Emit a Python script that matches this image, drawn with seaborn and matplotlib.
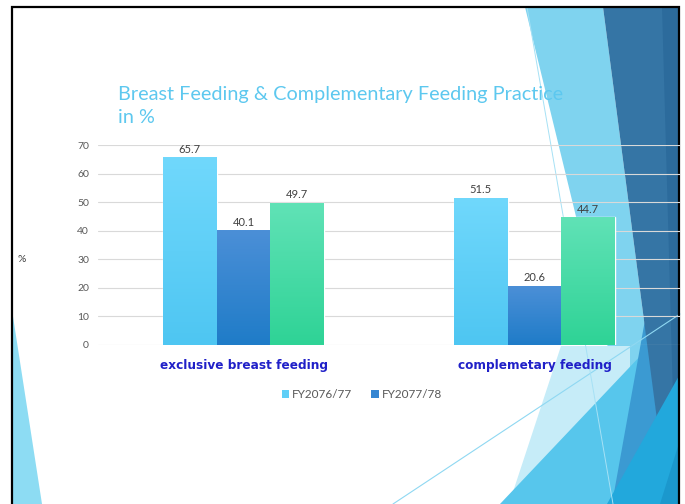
import numpy as np
import pandas as pd
import matplotlib
matplotlib.use("Agg")
import matplotlib.pyplot as plt
from matplotlib.patches import Polygon, Patch
from matplotlib.colors import LinearSegmentedColormap
import seaborn as sns

# -------------------------------
# data
# -------------------------------
categories = ["exclusive breast feeding", "complemetary feeding"]
series = ["FY2076/77", "FY2077/78", "FY2078/79"]
values_fy2076 = [65.7, 51.5]
values_fy2077 = [40.1, 20.6]
values_fy2078 = [49.7, 44.7]
yticks = [0, 10, 20, 30, 40, 50, 60, 70]
legend_series = ["FY2076/77", "FY2077/78"]

df = pd.DataFrame({
    "category": categories * 3,
    "year": np.repeat(series, len(categories)),
    "value": values_fy2076 + values_fy2077 + values_fy2078,
})

# flat colour (legend) + gradient top/bottom for each series
flat = ["#5fcff7", "#3586d2", "#44dca6"]
grad_top = ["#70d8fc", "#4b8fd7", "#60e2b6"]
grad_bot = ["#4ec6f2", "#1f7cc8", "#2fd396"]

sns.set_style("white")
plt.rcParams["font.family"] = ["Lato", "DejaVu Sans"]

W, H = 685, 504
fig = plt.figure(figsize=(W / 100, H / 100), dpi=100, facecolor="white")

# -------------------------------
# slide background (theme shapes), pixel coords
# -------------------------------
bg = fig.add_axes([0, 0, 1, 1], zorder=0)
bg.set_xlim(0, W)
bg.set_ylim(H, 0)
bg.axis("off")

shapes = [
    ([(525, 7), (603, 7), (668, 504), (646, 504)], "#7fd3ef"),
    ([(561, 346), (630, 346), (630, 504), (509, 504)], "#c6ecf8"),
    ([(500, 504), (680, 314), (680, 504)], "#57c6ec"),
    ([(645, 320), (668, 504), (612, 504)], "#3b9ad2"),
    ([(603, 7), (680, 7), (680, 504), (668, 504)], "#3575a5"),
    ([(662, 7), (680, 7), (680, 504), (676, 504)], "#2c6b9c"),
    ([(607, 504), (680, 374), (680, 504)], "#22a8dc"),
    ([(660, 504), (680, 440), (680, 504)], "#1b98cd"),
    ([(12, 310), (12, 504), (42, 504)], "#8ddcf3"),
]
for pts, col in shapes:
    bg.add_patch(Polygon(pts, closed=True, facecolor=col, edgecolor="none"))

bg.plot([393, 680], [504, 314], color="#8fd8f2", lw=0.8)
bg.plot([527, 613], [7, 504], color="#a6e1f5", lw=0.7)

# slide border
bg.plot([12, 12, 679, 679], [504, 7, 7, 504], color="black", lw=1.6,
        solid_joinstyle="miter")

# -------------------------------
# chart
# -------------------------------
ax = fig.add_axes([98 / W, 1 - 345 / H, 582 / W, 200 / H], zorder=2)
ax.patch.set_alpha(0)

sns.barplot(data=df, x="category", y="value", hue="year", order=categories,
            hue_order=series, palette=flat, width=0.553, saturation=1,
            legend=False, ax=ax)

# vertical gradient on each bar
g = np.linspace(0, 1, 64).reshape(-1, 1)
for i, cont in enumerate(ax.containers):
    cmap = LinearSegmentedColormap.from_list("b%d" % i, [grad_bot[i], grad_top[i]])
    for bar in cont:
        x0, w, h = bar.get_x(), bar.get_width(), bar.get_height()
        im = ax.imshow(g, cmap=cmap, origin="lower", aspect="auto",
                       extent=[x0, x0 + w, 0, h], zorder=bar.get_zorder() + 0.1)
        im.set_clip_path(bar)
    ax.bar_label(cont, fmt="%.1f", padding=2, fontsize=8, color="#404040")

ax.set_xlim(-0.5, 1.5)
ax.set_ylim(0, 70)
ax.set_yticks(yticks)
ax.set_xlabel("")
ax.set_ylabel("")
ax.yaxis.grid(True, color="#d9d9d9", lw=0.8)
ax.set_axisbelow(True)
for s in ax.spines.values():
    s.set_visible(False)
ax.tick_params(axis="y", length=0, pad=6.5, labelsize=7.5, labelcolor="#595959")
ax.tick_params(axis="x", length=0, pad=10)
for lab in ax.get_xticklabels():
    lab.set_fontsize(8.7)
    lab.set_fontweight("bold")
    lab.set_family("DejaVu Sans")
    lab.set_color("#2020c8")

fig.text(21.5 / W, 1 - 260 / H, "%", fontsize=7.5, color="#404040",
         ha="center", va="center")

fig.text(118 / W, 1 - 86 / H,
         "Breast Feeding & Complementary Feeding Practice\nin %",
         fontsize=14.3, color="#5dc8ef", ha="left", va="top", linespacing=1.4)

handles = [Patch(facecolor=flat[i], edgecolor="none") for i in range(len(legend_series))]
fig.legend(handles, legend_series, loc="center",
           bbox_to_anchor=(362 / W, 1 - 395 / H), ncol=2, frameon=False,
           fontsize=8.5, handlelength=0.65, handleheight=0.65,
           handletextpad=0.25, columnspacing=1.6, labelcolor="#595959")

fig.savefig("out.png", dpi=100)
